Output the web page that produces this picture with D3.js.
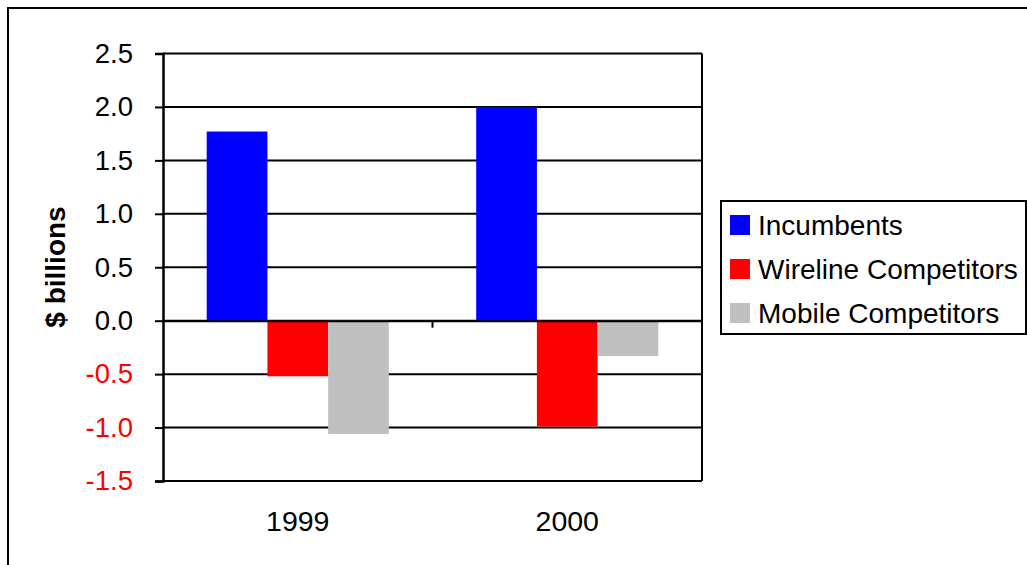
<!DOCTYPE html>
<html><head><meta charset="utf-8">
<script src="https://cdn.jsdelivr.net/npm/d3@7"></script>
<style>body{margin:0;background:#fff}svg{display:block}text{font-family:"Liberation Sans",Arial,sans-serif}</style>
</head><body>
<svg id="c" width="1027" height="565"></svg>
<script>
const categories = ["1999", "2000"];
const seriesNames = ["Incumbents", "Wireline Competitors", "Mobile Competitors"];
const seriesColors = ["#0000FF", "#FF0000", "#C0C0C0"];
const incumbents = [1.77, 2.0];
const wireline = [-0.52, -0.99];
const mobile = [-1.06, -0.33];
const yTicks = [-1.5, -1.0, -0.5, 0.0, 0.5, 1.0, 1.5, 2.0, 2.5];
const yTitle = "$ billions";

const seriesValues = [incumbents, wireline, mobile];
const svg = d3.select("#c");
const L = 163, R = 702, T = 53.5, B = 481;

svg.append("rect").attr("x", 8).attr("y", 8).attr("width", 1100).attr("height", 700)
  .attr("fill", "none").attr("stroke", "#000").attr("stroke-width", 2);

const y = d3.scaleLinear().domain([-1.5, 2.5]).range([B, T]);
const x0 = d3.scaleBand().domain(categories).range([L, R]).paddingInner(0).paddingOuter(0);
const x1 = d3.scaleBand().domain(seriesNames).range([0, x0.bandwidth()]).paddingOuter(0.72).paddingInner(0);

// gridlines
svg.append("g").selectAll("line").data(yTicks).join("line")
  .attr("x1", L).attr("x2", R).attr("y1", d => y(d)).attr("y2", d => y(d))
  .attr("stroke", "#000").attr("stroke-width", 2);
// right border
svg.append("line").attr("x1", R).attr("x2", R).attr("y1", T).attr("y2", B)
  .attr("stroke", "#000").attr("stroke-width", 2);

// bars
const g = svg.append("g");
seriesNames.forEach((s, si) => {
  g.append("g").selectAll("rect").data(categories).join("rect")
    .attr("x", c => x0(c) + x1(s))
    .attr("width", x1.bandwidth())
    .attr("y", (c, i) => y(Math.max(0, seriesValues[si][i])))
    .attr("height", (c, i) => Math.abs(y(seriesValues[si][i]) - y(0)))
    .attr("fill", seriesColors[si]);
});

// y axis
const yAxis = d3.axisLeft(y).tickValues(yTicks).tickFormat(d3.format(".1f")).tickSize(8).tickPadding(22);
const ya = svg.append("g").attr("transform", `translate(${L},0)`).call(yAxis);
ya.select(".domain").attr("stroke", "#000").attr("stroke-width", 2.5);
ya.selectAll(".tick line").attr("stroke", "#000").attr("stroke-width", 2);
ya.selectAll(".tick text").attr("font-size", 27.5).attr("font-family", "Liberation Sans, Arial, sans-serif")
  .attr("fill", d => d < 0 ? "#FF0000" : "#000").text(d => d3.format(".1f")(d).replace("−", "-"));

// x axis at zero
const xAxis = d3.axisBottom(x0).tickSize(0).tickFormat("");
const xa = svg.append("g").attr("transform", `translate(0,${y(0)})`).call(xAxis);
xa.select(".domain").attr("stroke", "#000").attr("stroke-width", 2);
svg.append("g").selectAll("line").data(categories).join("line")
  .attr("x1", c => x0(c) + x0.bandwidth()).attr("x2", c => x0(c) + x0.bandwidth())
  .attr("y1", y(0)).attr("y2", y(0) + 7).attr("stroke", "#000").attr("stroke-width", 2);

// category labels
svg.append("g").selectAll("text").data(categories).join("text")
  .attr("x", c => x0(c) + x0.bandwidth() / 2).attr("y", 531)
  .attr("text-anchor", "middle").attr("font-size", 28.5).attr("fill", "#000").text(c => c);

// y title
svg.append("text").attr("transform", "translate(65,267) rotate(-90)")
  .attr("text-anchor", "middle").attr("font-size", 28).attr("font-weight", "bold").text(yTitle);

// legend
const lg = svg.append("g");
lg.append("rect").attr("x", 721).attr("y", 201).attr("width", 305).attr("height", 133)
  .attr("fill", "#fff").attr("stroke", "#000").attr("stroke-width", 2);
seriesNames.forEach((s, i) => {
  const cy = 225 + i * 44;
  lg.append("rect").attr("x", 730).attr("y", cy - 10).attr("width", 20).attr("height", 20).attr("fill", seriesColors[i]);
  lg.append("text").attr("x", 758).attr("y", cy + 10).attr("font-size", 28).attr("fill", "#000").text(s);
});
</script>
</body></html>
